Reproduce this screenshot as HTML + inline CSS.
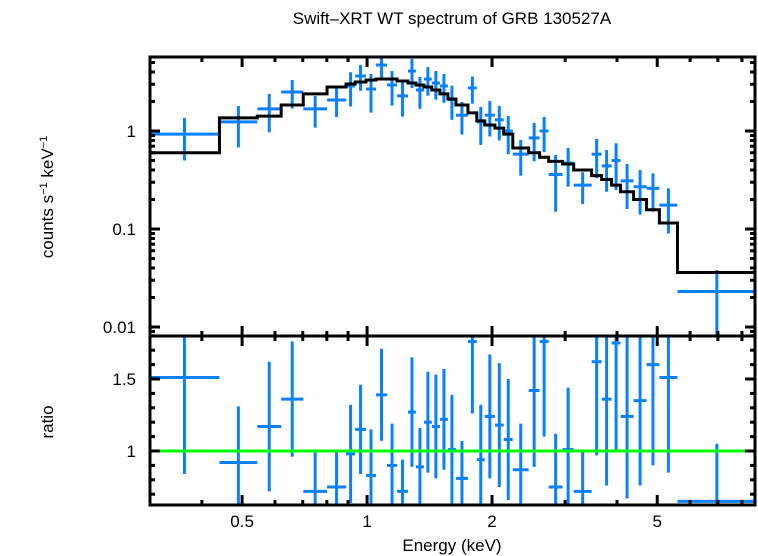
<!DOCTYPE html>
<html><head><meta charset="utf-8"><style>
html,body{margin:0;padding:0;background:#fff;}
svg{display:block;font-family:"Liberation Sans",sans-serif;}
</style></head><body>
<svg id="chart" width="758" height="556" viewBox="0 0 758 556" xmlns="http://www.w3.org/2000/svg">
<text x="452" y="24" font-size="17" text-anchor="middle">Swift–XRT WT spectrum of GRB 130527A</text>
<text transform="translate(53,197) rotate(-90)" font-size="17" text-anchor="middle">counts s<tspan font-size="11" dy="-6">−1</tspan><tspan dy="6"> keV</tspan><tspan font-size="11" dy="-6">−1</tspan></text>
<text transform="translate(53,422) rotate(-90)" font-size="17" text-anchor="middle">ratio</text>
<text x="452" y="551" font-size="17" text-anchor="middle">Energy (keV)</text>
<g id="topPanel"></g>
<g id="botPanel"></g>
</svg>
<script>
const binEdges=[0.299,0.441,0.544,0.621,0.702,0.801,0.890,0.936,0.994,1.051,1.117,1.181,1.255,1.311,1.371,1.432,1.498,1.566,1.637,1.750,1.838,1.921,2.032,2.134,2.244,2.451,2.604,2.738,2.958,3.146,3.475,3.673,3.882,4.080,4.385,4.713,5.060,5.594,8.66];
const counts=[0.93,1.24,1.68,2.50,1.68,2.07,2.88,3.64,2.68,4.71,2.95,2.28,4.09,2.62,3.39,3.09,2.88,2.1,1.45,2.75,1.24,1.45,1.3,1.0,0.58,0.85,1.0,0.36,0.47,0.28,0.58,0.44,0.5,0.31,0.27,0.26,0.175,0.023];
const countErr=[0.43,0.56,0.71,0.81,0.6,0.68,1.1,1.07,1.14,1.26,1.14,0.88,1.34,0.94,1.1,1.0,0.94,0.8,0.53,0.85,0.52,0.57,0.5,0.42,0.23,0.36,0.39,0.21,0.2,0.1,0.25,0.2,0.25,0.15,0.13,0.11,0.085,0.015];
const model=[0.60,1.36,1.42,1.84,2.39,2.81,3.02,3.16,3.31,3.39,3.39,3.24,3.09,2.95,2.81,2.62,2.39,2.12,1.84,1.53,1.27,1.15,1.07,0.93,0.67,0.60,0.54,0.49,0.46,0.40,0.35,0.32,0.28,0.24,0.20,0.157,0.115,0.036];
const ratio=[1.51,0.92,1.17,1.36,0.72,0.75,0.98,1.15,0.83,1.39,0.9,0.72,1.27,0.89,1.2,1.17,1.22,1.01,0.81,1.76,0.94,1.24,1.18,1.08,0.87,1.42,1.76,0.75,1.01,0.72,1.62,1.36,1.75,1.24,1.35,1.6,1.51,0.65];
const ratioErr=[0.67,0.39,0.45,0.40,0.27,0.25,0.34,0.31,0.32,0.32,0.29,0.22,0.38,0.27,0.35,0.36,0.35,0.38,0.26,0.5,0.38,0.43,0.43,0.42,0.32,0.53,0.66,0.37,0.43,0.29,0.65,0.6,0.76,0.57,0.59,0.7,0.66,0.4];
const xTickLabels=["0.5","1","2","5"];
const xTickVals=[0.5,1,2,5];
const yTopLabels=["1","0.1","0.01"];
const yTopVals=[1,0.1,0.01];
const yBotLabels=["1","1.5"];
const yBotVals=[1,1.5];

const L=150,R=755,T1=57,B1=336,T2=336,B2=505;
const EMIN=0.3,EMAX=8.6;
const xs=e=>L+(R-L)*Math.log10(e/EMIN)/Math.log10(EMAX/EMIN);
const yTop=v=>131-98*Math.log10(v);
const yBot=r=>451-144*(r-1);
const NS="http://www.w3.org/2000/svg";
function mk(parent,tag,attrs){const el=document.createElementNS(NS,tag);for(const k in attrs)el.setAttribute(k,attrs[k]);parent.appendChild(el);return el;}
const topG=document.getElementById('topPanel'),botG=document.getElementById('botPanel');
const BLUE="#0a80ff";
const defs=mk(document.getElementById('chart'),'defs',{});
const c1=mk(defs,'clipPath',{id:'c1'});mk(c1,'rect',{x:L,y:T1,width:R-L,height:B1-T1});
const c2=mk(defs,'clipPath',{id:'c2'});mk(c2,'rect',{x:L,y:T2,width:R-L,height:B2-T2});
const g1=mk(topG,'g',{'clip-path':'url(#c1)'});
const g2=mk(botG,'g',{'clip-path':'url(#c2)'});
for(let i=0;i<counts.length;i++){
  const x0=xs(binEdges[i]),x1=xs(binEdges[i+1]),xc=xs(Math.sqrt(binEdges[i]*binEdges[i+1]));
  const lo=Math.max(counts[i]-countErr[i],0.001);
  const h=mk(g1,'line',{x1:x0,x2:x1,y1:yTop(counts[i]),y2:yTop(counts[i]),stroke:BLUE,'stroke-width':3});
  
  
  const v=mk(g1,'line',{x1:xc,x2:xc,y1:yTop(counts[i]+countErr[i]),y2:yTop(lo),stroke:BLUE,'stroke-width':3});
  
  
  const rh=mk(g2,'line',{x1:x0,x2:x1,y1:yBot(ratio[i]),y2:yBot(ratio[i]),stroke:BLUE,'stroke-width':3});
  
  
  const rv=mk(g2,'line',{x1:xc,x2:xc,y1:yBot(ratio[i]+ratioErr[i]),y2:yBot(ratio[i]-ratioErr[i]),stroke:BLUE,'stroke-width':3});
  
  
}
let d="";
for(let i=0;i<model.length;i++){
  const x0=xs(binEdges[i]),x1=xs(binEdges[i+1]),y=yTop(model[i]);
  d+=(i===0?"M":"L")+x0+","+y+"L"+x1+","+y;
}
const m=mk(g1,'path',{d:d,fill:'none',stroke:'#000','stroke-width':3});


const gl=mk(g2,'line',{x1:L,x2:R,y1:yBot(1),y2:yBot(1),stroke:'#00ff00','stroke-width':3});


const minorE=[0.3,0.4,0.6,0.7,0.8,0.9,3,4,6,7,8];
function xticks(parent,yt,yb){
  xTickVals.forEach(e=>{mk(parent,'line',{x1:xs(e),x2:xs(e),y1:yt,y2:yt+10,stroke:'#000','stroke-width':3});mk(parent,'line',{x1:xs(e),x2:xs(e),y1:yb,y2:yb-10,stroke:'#000','stroke-width':3});});
  minorE.forEach(e=>{mk(parent,'line',{x1:xs(e),x2:xs(e),y1:yt,y2:yt+5,stroke:'#000','stroke-width':3});mk(parent,'line',{x1:xs(e),x2:xs(e),y1:yb,y2:yb-5,stroke:'#000','stroke-width':3});});
}
xticks(topG,T1,B1);xticks(botG,T2,B2);
xTickLabels.forEach((t,i)=>{const el=mk(botG,'text',{x:xs(xTickVals[i]),y:527,'font-size':17,'text-anchor':'middle'});el.textContent=t;

});
for(let dec=-3;dec<=1;dec++){for(let k=1;k<10;k++){const v=k*Math.pow(10,dec);const y=yTop(v);if(y<T1||y>B1)continue;const len=k===1?10:5;
mk(topG,'line',{x1:L,x2:L+len,y1:y,y2:y,stroke:'#000','stroke-width':3});mk(topG,'line',{x1:R,x2:R-len,y1:y,y2:y,stroke:'#000','stroke-width':3});}}
yTopLabels.forEach((t,i)=>{const el=mk(topG,'text',{x:136,y:yTop(yTopVals[i])+6,'font-size':17,'text-anchor':'end'});el.textContent=t;

});
for(let r=0.7;r<=1.81;r+=0.1){const y=yBot(r);const maj=Math.abs(r-1)<0.01||Math.abs(r-1.5)<0.01;const len=maj?10:5;
mk(botG,'line',{x1:L,x2:L+len,y1:y,y2:y,stroke:'#000','stroke-width':3});mk(botG,'line',{x1:R,x2:R-len,y1:y,y2:y,stroke:'#000','stroke-width':3});}
yBotLabels.forEach((t,i)=>{const el=mk(botG,'text',{x:136,y:yBot(yBotVals[i])+6,'font-size':17,'text-anchor':'end'});el.textContent=t;

});
const f1=mk(topG,'rect',{x:L,y:T1,width:R-L,height:B1-T1,fill:'none',stroke:'#000','stroke-width':3});


const f2=mk(botG,'rect',{x:L,y:T2,width:R-L,height:B2-T2,fill:'none',stroke:'#000','stroke-width':3});


</script>
</body></html>
